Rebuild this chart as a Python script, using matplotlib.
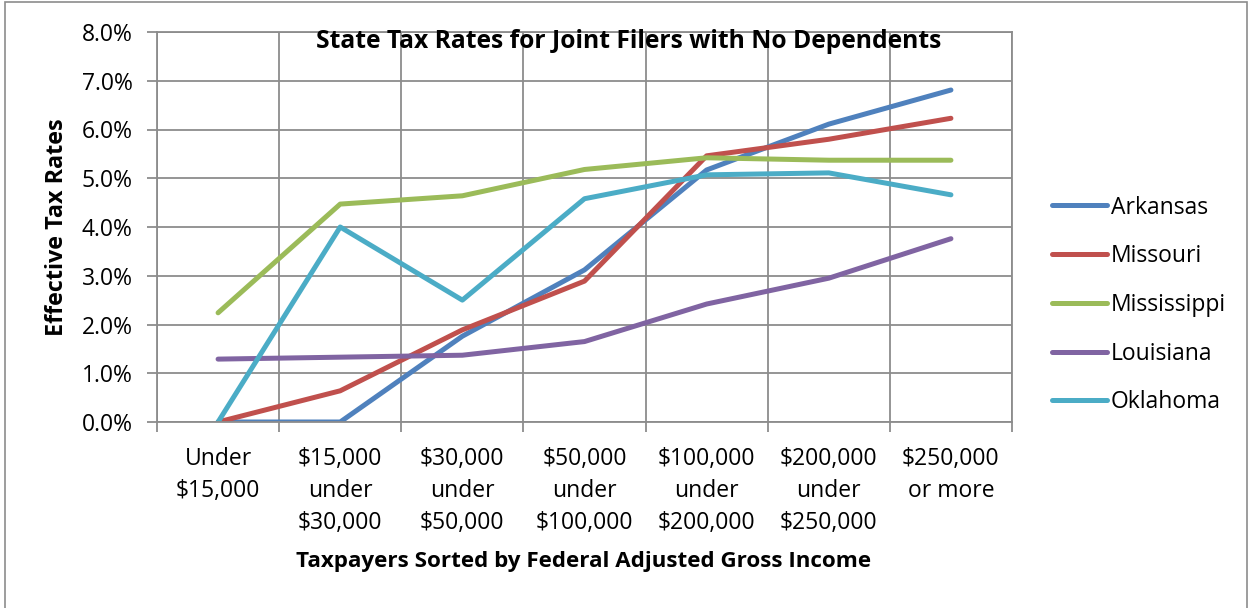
import matplotlib.pyplot as plt
from matplotlib.patches import Rectangle
import numpy as np

plt.rcParams['font.family'] = ['Open Sans', 'DejaVu Sans']

# income brackets (x axis) and effective rates in percent
brackets = ["Under\n$15,000", "$15,000\nunder\n$30,000", "$30,000\nunder\n$50,000",
            "$50,000\nunder\n$100,000", "$100,000\nunder\n$200,000",
            "$200,000\nunder\n$250,000", "$250,000\nor more"]

arkansas = [0.0, 0.0, 1.76, 3.12, 5.17, 6.11, 6.81]
missouri = [0.0, 0.64, 1.89, 2.89, 5.46, 5.80, 6.23]
mississippi = [2.24, 4.47, 4.64, 5.18, 5.42, 5.37, 5.37]
louisiana = [1.29, 1.33, 1.37, 1.65, 2.42, 2.95, 3.76]
oklahoma = [0.0, 4.0, 2.50, 4.58, 5.07, 5.11, 4.66]

states = ["Arkansas", "Missouri", "Mississippi", "Louisiana", "Oklahoma"]
colors = ["#4F81BD", "#C0504D", "#9BBB59", "#8064A2", "#4BACC6"]

fig = plt.figure(figsize=(12.51, 6.08), dpi=100)
W, H = 1251, 608
ax = fig.add_axes([157 / W, 1 - 422 / H, (1012 - 157) / W, (422 - 32) / H])

x = np.arange(len(brackets))
for name, vals, c in zip(states, [arkansas, missouri, mississippi, louisiana, oklahoma], colors):
    ax.plot(x, np.array(vals) / 100, color=c, lw=3.6, label=name, solid_capstyle='round')

ax.set_xlim(-0.5, len(brackets) - 0.5)
ax.set_ylim(0, 0.08)
ax.set_yticks(np.arange(0, 0.081, 0.01))
ax.set_yticklabels([f"{v:.1f}%" for v in np.arange(0, 8.1, 1)])
ax.set_xticks(x)
ax.set_xticklabels(brackets, linespacing=1.45)
ax.set_xticks(np.arange(-0.5, len(brackets)), minor=True)

grid_c = "#8c8c8c"
ax.grid(True, which='minor', axis='x', color=grid_c, lw=1.3)
ax.grid(True, which='major', axis='y', color=grid_c, lw=1.3)
ax.set_axisbelow(True)
for s in ax.spines.values():
    s.set_color(grid_c)
    s.set_linewidth(1.3)

ax.tick_params(axis='x', which='major', length=0, labelsize=16.5, pad=18, colors='black')
ax.tick_params(axis='x', which='minor', length=7, color=grid_c, width=1.3)
ax.tick_params(axis='y', length=7, color=grid_c, width=1.3, labelsize=16.5, pad=10.5)

ax.text(0.552, 1 - 10 / 390, "State Tax Rates for Joint Filers with No Dependents",
        transform=ax.transAxes, fontsize=17.7, fontweight='bold',
        ha='center', va='center')
fig.text(57 / W, 1 - 227 / H, "Effective Tax Rates", rotation=90,
         fontsize=16.8, fontweight='bold', ha='center', va='center')
fig.text(584 / W, 1 - 561 / H, "Taxpayers Sorted by Federal Adjusted Gross Income",
         fontsize=16.1, fontweight='bold', ha='center', va='center')

ax.legend(loc='center left', bbox_to_anchor=(1.036, 0.30), frameon=False,
          borderaxespad=0, fontsize=16.5, labelspacing=1.08,
          handlelength=2.4, handletextpad=0.17)

# chart border
fig.add_artist(Rectangle((5 / W, -0.02), (1247 - 5) / W, 1 - 2 / H + 0.02,
                         transform=fig.transFigure, fill=False,
                         edgecolor=grid_c, lw=1.2))

fig.savefig("out.png", dpi=100)
